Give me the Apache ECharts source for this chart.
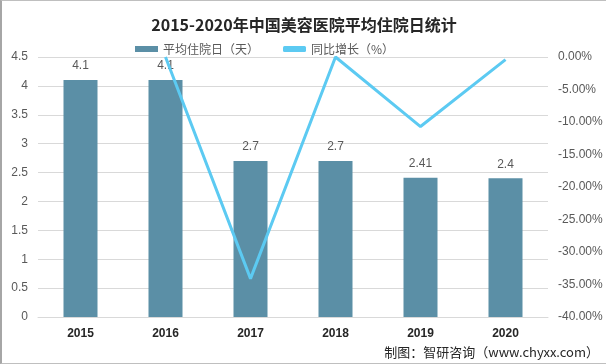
<!DOCTYPE html>
<html><head><meta charset="utf-8">
<script src="https://cdn.jsdelivr.net/npm/echarts@6/dist/echarts.min.js"></script>
<style>html,body{margin:0;padding:0;background:#fff}#c{width:604px;height:362px;border:1px solid #bfbfbf;border-left:2px solid #a6a6a6;box-sizing:content-box}</style>
</head><body><div id="c"></div>
<script>
const categories = ['2015','2016','2017','2018','2019','2020'];
const stayDays = [4.1, 4.1, 2.7, 2.7, 2.41, 2.4];
const growthPct = [null, 0, -34.1, 0, -10.7, -0.4];
const leftTicks = [0, 0.5, 4.5];
const rightTicks = [-40, 5, 0];

const chart = echarts.init(document.getElementById('c'));
chart.setOption({
  animation: false,
  title: {text: '2015-2020年中国美容医院平均住院日统计', left: 'center', top: 11,
    textStyle: {fontFamily: 'Noto Sans CJK SC', fontWeight: 'bold', fontSize: 16, color: '#262626'}},
  legend: {top: 37, left: 128, itemGap: 24, itemWidth: 23, itemHeight: 6,
    textStyle: {fontFamily: 'Noto Sans CJK SC', fontSize: 12, color: '#595959'},
    data: [{name: '平均住院日（天）', icon: 'rect'}, {name: '同比增长（%）', icon: 'roundRect'}]},
  grid: {left: 36, right: 58, top: 56, bottom: 46},
  xAxis: {type: 'category', data: categories,
    axisLine: {lineStyle: {color: '#d9d9d9'}}, axisTick: {show: false},
    axisLabel: {color: '#262626', fontWeight: 'bold', fontSize: 12, margin: 11, fontFamily: 'Liberation Sans'}},
  yAxis: [
    {type: 'value', min: leftTicks[0], max: leftTicks[2], interval: leftTicks[1],
      axisLine: {show: false}, axisTick: {show: false},
      splitLine: {lineStyle: {color: '#d9d9d9'}},
      axisLabel: {color: '#595959', fontSize: 12, margin: 10, fontFamily: 'Liberation Sans'}},
    {type: 'value', min: rightTicks[0], max: rightTicks[2], interval: rightTicks[1],
      axisLine: {show: false}, axisTick: {show: false}, splitLine: {show: false},
      axisLabel: {color: '#595959', fontSize: 12, margin: 10, fontFamily: 'Liberation Sans',
        formatter: v => v.toFixed(2) + '%'}}
  ],
  series: [
    {name: '平均住院日（天）', type: 'bar', data: stayDays, barWidth: '40%',
      itemStyle: {color: '#5b8fa6'},
      label: {show: true, position: 'top', color: '#595959', fontSize: 12, distance: 8, fontFamily: 'Liberation Sans'}},
    {name: '同比增长（%）', type: 'line', yAxisIndex: 1, data: growthPct, showSymbol: false, symbol: 'none',
      lineStyle: {color: '#5ccaf2', width: 3}, itemStyle: {color: '#5ccaf2'}}
  ],
  graphic: [{type: 'text', right: 7, bottom: 4,
    style: {text: '制图：智研咨询（www.chyxx.com）', fill: '#262626', fontSize: 13, fontFamily: 'Noto Sans CJK SC'}}]
});
</script></body></html>
